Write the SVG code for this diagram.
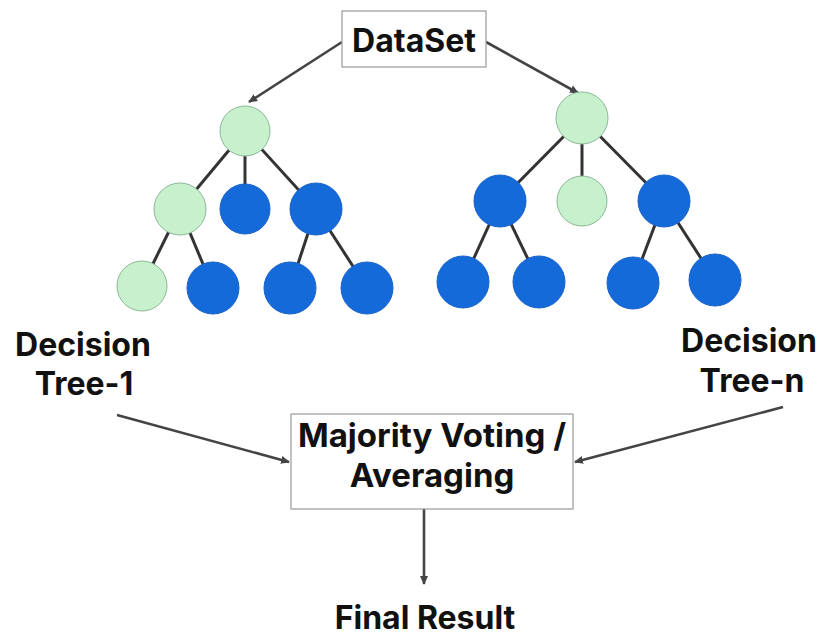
<svg xmlns="http://www.w3.org/2000/svg" width="820" height="637" viewBox="0 0 820 637">
<style>
.box{fill:#fff;stroke:#9a9a9a;stroke-width:1.2}
.t{font-family:Inter,"Liberation Sans",sans-serif;font-weight:700;font-size:32px;fill:#111;text-anchor:middle}
.e{stroke:#333;stroke-width:3;fill:none}
.c{stroke:#444;stroke-width:2.6;fill:none}
.g{fill:#c7f1cc;stroke:#8db898;stroke-width:1}
.b{fill:#156ad9;stroke:#1a63c9;stroke-width:1}
</style>
<defs>
<marker id="ah" markerWidth="10" markerHeight="10" refX="8" refY="5" orient="auto" markerUnits="userSpaceOnUse">
<path d="M0,1 L9,5 L0,9 Z" fill="#444"/>
</marker>
</defs>
<g id="connectors">
<line class="c" x1="342" y1="42" x2="249" y2="102" marker-end="url(#ah)"/>
<line class="c" x1="486" y1="42" x2="578" y2="93" marker-end="url(#ah)"/>
<line class="c" x1="117" y1="415" x2="289" y2="462" marker-end="url(#ah)"/>
<line class="c" x1="783" y1="407" x2="575" y2="462" marker-end="url(#ah)"/>
<line class="c" x1="424" y1="509" x2="424" y2="584" marker-end="url(#ah)"/>
<g id="tree1-edges">
<line class="e" x1="245" y1="131" x2="180" y2="209"/>
<line class="e" x1="245" y1="131" x2="245" y2="209"/>
<line class="e" x1="245" y1="131" x2="316" y2="209"/>
<line class="e" x1="180" y1="209" x2="142" y2="286"/>
<line class="e" x1="180" y1="209" x2="213" y2="288"/>
<line class="e" x1="316" y1="209" x2="290" y2="288"/>
<line class="e" x1="316" y1="209" x2="367" y2="288"/>
</g>
<g id="treen-edges">
<line class="e" x1="582" y1="118" x2="500" y2="201"/>
<line class="e" x1="582" y1="118" x2="582" y2="201"/>
<line class="e" x1="582" y1="118" x2="664" y2="201"/>
<line class="e" x1="500" y1="201" x2="463" y2="282"/>
<line class="e" x1="500" y1="201" x2="539" y2="282"/>
<line class="e" x1="664" y1="201" x2="633" y2="283"/>
<line class="e" x1="664" y1="201" x2="715" y2="280"/>
</g>
</g>
<g id="dataset"><rect class="box" x="342" y="11" width="144" height="56"/><text class="t" x="414" y="52">DataSet</text></g>
<g id="tree1">
<circle class="g" cx="245" cy="131" r="25"/>
<circle class="g" cx="180" cy="209" r="26"/>
<circle class="b" cx="245" cy="209" r="25"/>
<circle class="b" cx="316" cy="209" r="26"/>
<circle class="g" cx="142" cy="286" r="25"/>
<circle class="b" cx="213" cy="288" r="26"/>
<circle class="b" cx="290" cy="288" r="26"/>
<circle class="b" cx="367" cy="288" r="26"/>
</g>
<g id="treen">
<circle class="g" cx="582" cy="118" r="26"/>
<circle class="b" cx="500" cy="201" r="26"/>
<circle class="g" cx="582" cy="201" r="25"/>
<circle class="b" cx="664" cy="201" r="26"/>
<circle class="b" cx="463" cy="282" r="26"/>
<circle class="b" cx="539" cy="282" r="26"/>
<circle class="b" cx="633" cy="283" r="26"/>
<circle class="b" cx="715" cy="280" r="26"/>
</g>
<g id="label-tree1"><text class="t" x="83" y="356">Decision</text><text class="t" x="84" y="395">Tree-1</text></g>
<g id="label-treen"><text class="t" x="749" y="352">Decision</text><text class="t" x="752" y="392">Tree-n</text></g>
<g id="voting"><rect class="box" x="291" y="414" width="282" height="95"/><text class="t" x="432" y="447" style="font-size:33px">Majority Voting /</text><text class="t" x="432" y="487" style="font-size:33px">Averaging</text></g>
<g id="final"><text class="t" x="425" y="629">Final Result</text></g>
</svg>
